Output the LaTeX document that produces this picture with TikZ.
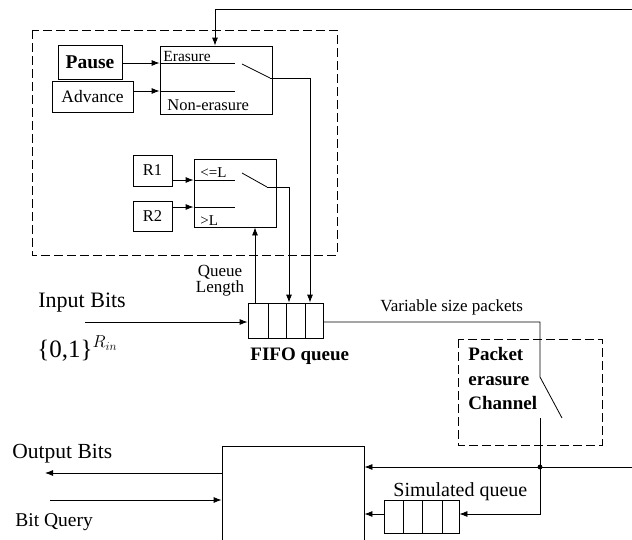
\documentclass[tikz,border=0pt]{standalone}
\usepackage{fontspec}
\setmainfont{Liberation Serif}
\usetikzlibrary{arrows.meta}
\begin{document}
\begin{tikzpicture}[x=1pt,y=-1pt,line width=0.8pt,
  arr/.style={-{Latex[length=8pt,width=6pt]}},
  blk/.style={draw,rectangle,inner sep=0pt},
  dbox/.style={draw,dash pattern=on 9pt off 4pt,line width=0.9pt},
  lbl/.style={inner sep=0pt,anchor=base west},
  fs/.style={font=\fontsize{#1}{#1}\selectfont}]
\useasboundingbox (0,0) rectangle (632,539);
\clip (0,0) rectangle (632,539);
% dashed boxes
\draw[dbox] (32,30) rectangle (337,255);
\draw[dbox] (458,339) rectangle (602,445);
% blocks
\node[blk,minimum width=64pt,minimum height=34pt,font=\bfseries\fontsize{19.5}{19.5}\selectfont] (pause) at (90,62) {Pause};
\node[blk,minimum width=81pt,minimum height=31pt,fs=17.5] (adv) at (92.5,96.5) {Advance};
\node[blk,minimum width=112pt,minimum height=68pt] (erbox) at (216,80) {};
\node[blk,minimum width=39pt,minimum height=31pt,fs=16.5] (r1) at (152.5,170.5) {R1};
\node[blk,minimum width=39pt,minimum height=30pt,fs=16.5] (r2) at (152.5,216) {R2};
\node[blk,minimum width=82pt,minimum height=68pt] (lbox) at (235,193) {};
\node[blk,minimum width=75pt,minimum height=35pt] (fifo) at (285.5,320.5) {};
\node[blk,minimum width=75pt,minimum height=33pt] (simq) at (421.5,516.5) {};
\node[blk,minimum width=142pt,minimum height=120pt] (dec) at (293,506) {};
% queue cells
\foreach \x in {268,286,305} \draw (\x,303) -- (\x,338);
\foreach \x in {403,422,442} \draw (\x,500) -- (\x,533);
% inner switch lines
\coordinate (e1) at (235,63); \coordinate (e2) at (235,91);
\coordinate (sw1a) at (242,64); \coordinate (sw1b) at (270,78);
\draw (erbox.west |- e1) -- (e1);
\draw (erbox.west |- e2) -- (e2);
\draw (sw1a) -- (sw1b);
\coordinate (l1) at (235,180); \coordinate (l2) at (235,207);
\coordinate (sw2a) at (242,173); \coordinate (sw2b) at (267,187);
\draw (lbox.west |- l1) -- (l1);
\draw (lbox.west |- l2) -- (l2);
\draw (sw2a) -- (sw2b);
% texts
\node[lbl,fs=15.5] (tEr) at (163,61) {Erasure};
\node[lbl,fs=16.5] (tNe) at (167,110) {Non-erasure};
\node[lbl,fs=15] (tle) at (200,177) {<=L};
\node[lbl,fs=15] (tgt) at (200,225) {>L};
\node[inner sep=0pt,align=center,fs=17] (tql) at (220,281) {Queue\\[-1pt]Length};
\node[lbl,fs=22] (tin) at (38,307) {Input Bits};
\node[lbl,fs=25] (tset) at (37,357) {\{0,1\}$^{R_{in}}$};
\node[lbl,font=\bfseries\fontsize{19}{19}\selectfont] (tfifo) at (250,360) {FIFO queue};
\node[lbl,fs=17] (tvar) at (380,311) {Variable size packets};
\node[inner sep=0pt,anchor=north west,align=left,font=\bfseries\fontsize{19}{24.5}\selectfont] (tpec) at (468,347) {Packet\\erasure\\Channel};
\node[lbl,fs=21.5] (tout) at (12,458) {Output Bits};
\node[lbl,fs=19.5] (tbq) at (15,526) {Bit Query};
\node[lbl,fs=20] (tsim) at (393,496) {Simulated queue};
% connectors
\coordinate (fbR) at (632,9);
\draw[arr] (fbR) -| (erbox.north -| 215,0);
\draw[arr] (pause.east |- e1) -- (erbox.west |- e1);
\draw[arr] (adv.east |- e2) -- (erbox.west |- e2);
\draw[arr] (r1.east |- l1) -- (lbox.west |- l1);
\draw[arr] (r2.east |- l2) -- (lbox.west |- l2);
\coordinate (c1) at (310,78);
\draw[arr] (sw1b) -- (c1) -- (fifo.north -| c1);
\coordinate (c2) at (289,187);
\draw[arr] (sw2b) -- (c2) -- (fifo.north -| c2);
\coordinate (c3) at (255,303);
\draw[arr] (c3) -- (lbox.south -| c3);
\coordinate (inS) at (85,322);
\draw[arr] (inS) -- (fifo.west |- inS);
\coordinate (pk1) at (540,322);
\coordinate (pk2) at (540,377);
\coordinate (pk3) at (562,418);
\coordinate (pk4) at (540,418);
\coordinate (jn) at (540,467);
\draw (fifo.east |- pk1) -- (pk1) -- (pk2) -- (pk3);
\draw (pk4) -- (jn);
\coordinate (jR) at (632,467);
\draw[arr] (jR) -- (dec.east |- jR);
\fill (jn) circle (2.4pt);
\coordinate (sq) at (540,514);
\draw[arr] (jn) -- (sq) -- (simq.east |- sq);
\draw[arr] (simq.west |- sq) -- (dec.east |- sq);
\coordinate (outE) at (45,473);
\draw[arr] (dec.west |- outE) -- (outE);
\coordinate (bqS) at (50,500);
\draw[arr] (bqS) -- (dec.west |- bqS);
\end{tikzpicture}
\end{document}
